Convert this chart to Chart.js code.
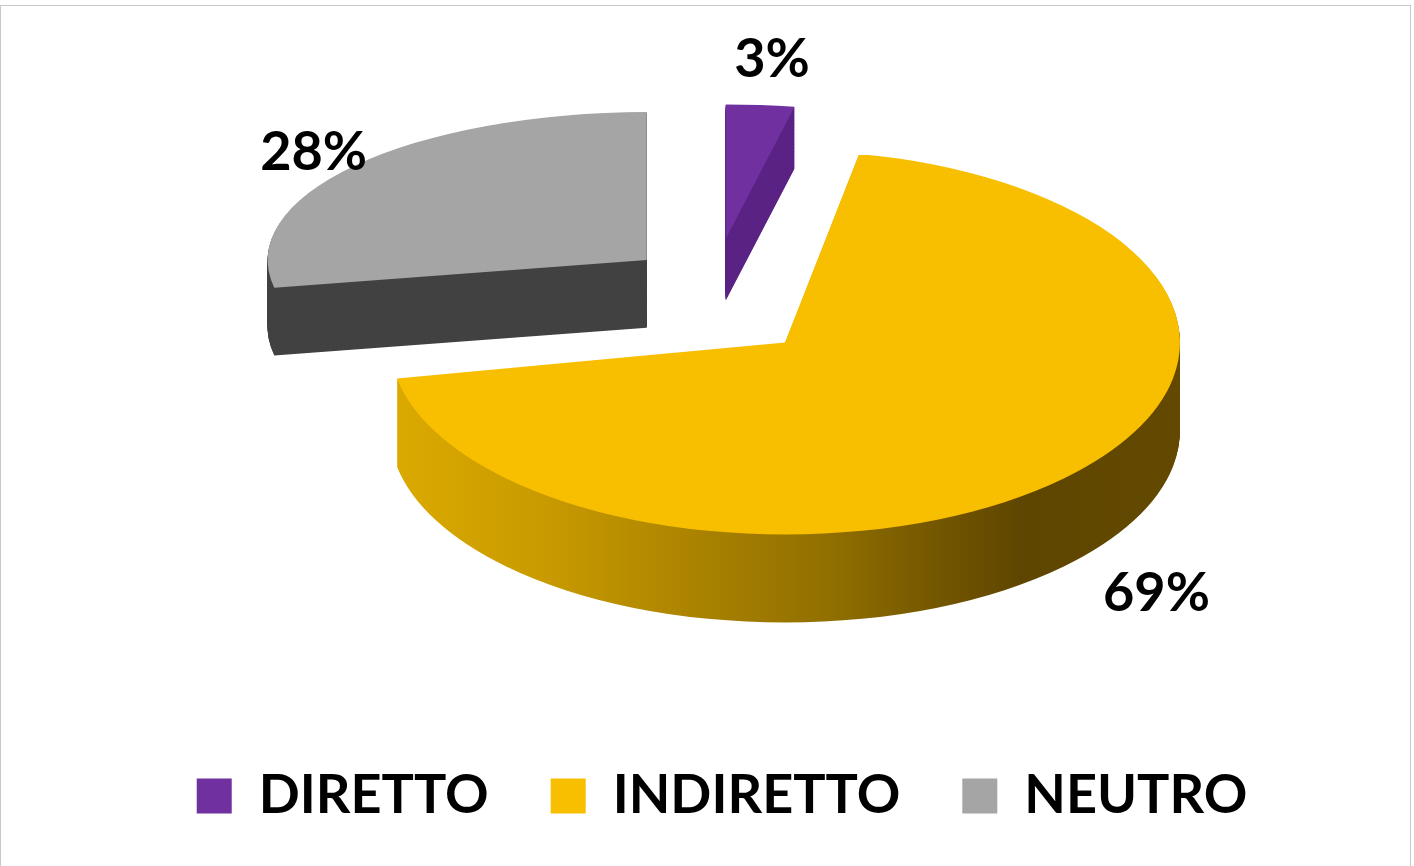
<!DOCTYPE html>
<html>
<head>
<meta charset="utf-8">
<script src="https://cdn.jsdelivr.net/npm/chart.js@4"></script>
<style>
  body { margin: 0; background: #fff; }
  #frame { position: absolute; left: 0; top: 5px; width: 1411px; height: 870px; border: 1px solid #c9c9c9; box-sizing: border-box; }
  #box { position: absolute; left: 0; top: 0; width: 1414px; height: 866px; }
</style>
</head>
<body>
<div id="frame"></div>
<div id="box"><canvas id="myChart"></canvas></div>
<script>
const labels = ['DIRETTO', 'INDIRETTO', 'NEUTRO'];
const values = [3, 69, 28];
const pctLabels = values.map(v => v + '%');

const topColors = ['#7030A0', '#F8BE00', '#A5A5A5'];
const sideColors = ['#5A2384', null, '#424242']; // yellow side gets a gradient
const pullX = [-0.15, 0, -0.35];   // how far each slice is pulled out
const pullY = [-0.54, 0, -0.43];
const squashX = [0.93, 1, 0.96];   // back slices look a bit smaller
const squashY = [0.7, 1, 0.77];
const labelDist = [1.34, 1.33, 1.14];

const RX = 395, RY = 192, DEPTH = 88, SHIFT_X = 63, SHIFT_Y = -11;

// fake 3d pie: squash the arcs into an ellipse and stack copies for the side
const pie3d = {
  id: 'pie3d',
  beforeDatasetsDraw(chart) {
    const ctx = chart.ctx;
    const arcs = chart.getDatasetMeta(0).data;
    if (!arcs.length) return false;
    const R = arcs[0].outerRadius;
    const ox = arcs[0].x, oy = arcs[0].y;
    const cx = ox + SHIFT_X, cy = oy + SHIFT_Y;

    const rim = ctx.createLinearGradient(ox - R, 0, ox + R, 0);
    rim.addColorStop(0, '#DCAA00');
    rim.addColorStop(0.2, '#C89A00');
    rim.addColorStop(0.4, '#A88100');
    rim.addColorStop(0.55, '#927000');
    rim.addColorStop(0.7, '#725500');
    rim.addColorStop(0.8, '#5F4600');
    rim.addColorStop(1, '#634900');

    const paint = (i, color, d) => {
      const arc = arcs[i];
      const saved = arc.options;
      ctx.save();
      ctx.translate(cx + pullX[i] * RX, cy + pullY[i] * RY + d * squashY[i]);
      ctx.scale(RX * squashX[i] / R, RY * squashY[i] / R);
      ctx.translate(-ox, -oy);
      arc.options = Object.assign({}, saved, { backgroundColor: color, borderWidth: 0 });
      arc.draw(ctx);
      arc.options = saved;
      ctx.restore();
    };

    const order = [0, 2, 1];
    for (let d = DEPTH; d >= 1; d--) {
      order.forEach(i => paint(i, sideColors[i] || rim, d));
    }
    order.forEach(i => paint(i, topColors[i], 0));

    ctx.save();
    ctx.font = 'bold 54px Lato';
    ctx.fillStyle = '#000';
    ctx.textAlign = 'center';
    ctx.textBaseline = 'middle';
    arcs.forEach((arc, i) => {
      const mid = (arc.startAngle + arc.endAngle) / 2;
      const dx = Math.cos(mid), dy = Math.sin(mid);
      const x = cx + pullX[i] * RX + dx * RX * squashX[i] * labelDist[i];
      const y = cy + pullY[i] * RY + dy * RY * squashY[i] * labelDist[i] + (dy > 0 ? DEPTH * 0.8 : 0);
      ctx.fillText(pctLabels[i], x, y);
    });
    ctx.restore();
    return false;
  }
};

const ctx = document.getElementById('myChart').getContext('2d');
const myChart = new Chart(ctx, {
  type: 'pie',
  data: {
    labels: labels,
    datasets: [{
      data: values,
      backgroundColor: topColors,
      borderWidth: 0
    }]
  },
  options: {
    responsive: true,
    maintainAspectRatio: false,
    animation: false,
    events: [],
    layout: { padding: { left: 30, bottom: 33 } },
    plugins: {
      tooltip: { enabled: false },
      legend: {
        position: 'bottom',
        labels: {
          boxWidth: 35,
          boxHeight: 35,
          padding: 62,
          color: '#000',
          font: { family: 'Lato', weight: 'bold', size: 54 }
        }
      }
    }
  },
  plugins: [pie3d]
});
</script>
</body>
</html>
